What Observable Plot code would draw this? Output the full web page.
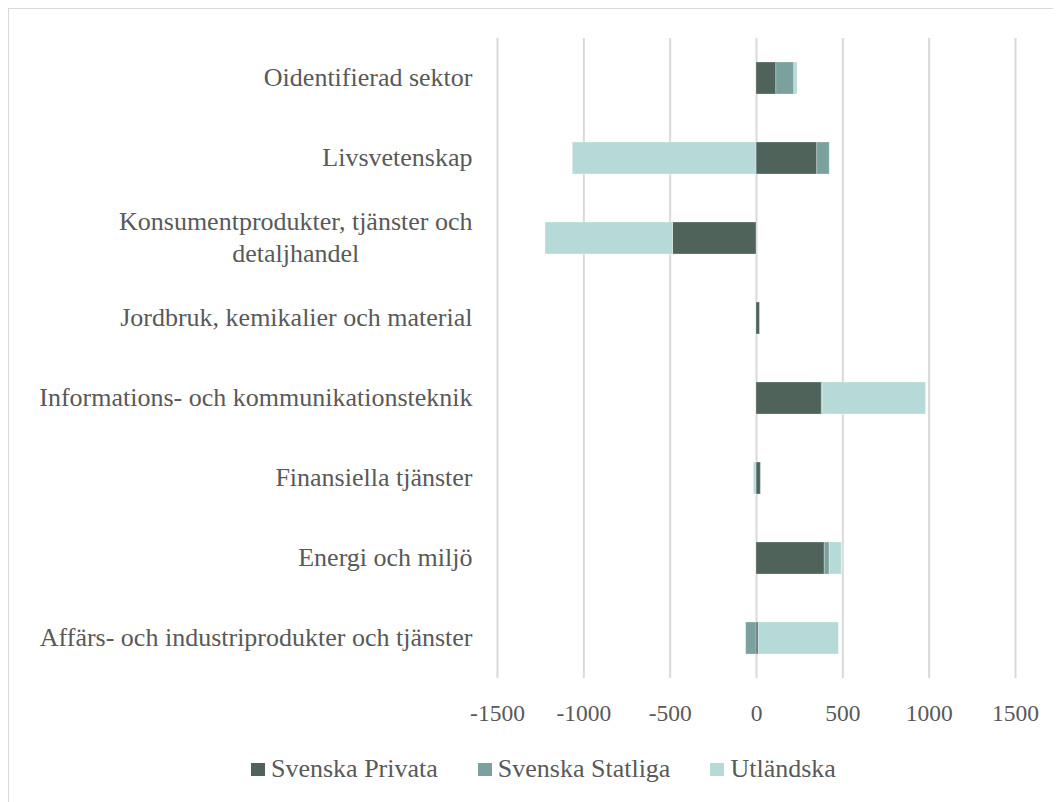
<!DOCTYPE html>
<html>
<head>
<meta charset="utf-8">
<script src="https://cdn.jsdelivr.net/npm/d3@7"></script>
<script src="https://cdn.jsdelivr.net/npm/@observablehq/plot@0.6"></script>
<style>
  body { margin: 8px; background: #fff; overflow: hidden; }
  #frame { border: 1px solid #d9d9d9; width: 1070px; height: 820px; box-sizing: border-box; }
  #legend { display: flex; justify-content: flex-start; align-items: center; gap: 40px;
    font-family: "Liberation Serif", serif; font-size: 26px; color: #595959; margin-top: 25px; padding-left: 242px; line-height: 30px; }
  #legend .item { display: flex; align-items: center; }
  #legend .sw { width: 14px; height: 13px; margin-right: 6px; }
</style>
</head>
<body>
<div id="frame"><div id="chart"></div><div id="legend"></div></div>
<script>
const categories = [
  "Oidentifierad sektor",
  "Livsvetenskap",
  "Konsumentprodukter, tjänster och detaljhandel",
  "Jordbruk, kemikalier och material",
  "Informations- och kommunikationsteknik",
  "Finansiella tjänster",
  "Energi och miljö",
  "Affärs- och industriprodukter och tjänster"
];
const series = ["Svenska Privata", "Svenska Statliga", "Utländska"];
const colors = ["#4f635b", "#7aa19e", "#b6dad8"];
const privata  = [115, 352, -483, 20, 378, 25, 395, 12];
const statliga = [104, 72, 0, 0, 5, 3, 29, -60];
const utlandska = [19, -1064, -739, 0, 599, -15, 70, 465];
const xTicks = [-1500, -1000, -500, 0, 500, 1000, 1500];
const labelLines = {"Konsumentprodukter, tjänster och detaljhandel": "Konsumentprodukter, tjänster och\ndetaljhandel"};

const seriesValues = [privata, statliga, utlandska];
const data = [];
categories.forEach((c, i) => series.forEach((s, j) => data.push({category: c, series: s, value: seriesValues[j][i]})));

const font = "Liberation Serif, serif";
const plot = Plot.plot({
  width: 1050,
  height: 720,
  marginLeft: 488,
  marginRight: 44,
  marginTop: 29,
  marginBottom: 51,
  style: {fontFamily: font, fontSize: "26px", color: "#595959", background: "transparent"},
  x: {domain: [-1500, 1500], ticks: xTicks},
  y: {domain: categories, paddingInner: 0.6, paddingOuter: 0.3},
  color: {domain: series, range: colors},
  marks: [
    Plot.gridX(xTicks, {stroke: "#d9d9d9", strokeOpacity: 1, strokeWidth: 2}),
    Plot.barX(data, Plot.stackX({x: "value", y: "category", fill: "series", stroke: "#ffffff", strokeOpacity: 0.35, strokeWidth: 0.8})),
    Plot.axisX(xTicks, {tickSize: 0, tickPadding: 26, label: null, fill: "#595959", fontSize: 23.5, tickFormat: d => String(d)}),
    Plot.axisY({tickSize: 0, tickPadding: 25, label: null, fill: "#595959", fontSize: 26, lineHeight: 1.25, dy: -3,
      tickFormat: d => labelLines[d] || d})
  ]
});
document.getElementById("chart").appendChild(plot);

// center wrapped label lines relative to each other (as in the original)
d3.select(plot).selectAll("text").each(function() {
  const tspans = this.querySelectorAll("tspan");
  if (tspans.length > 1) {
    const widths = Array.from(tspans, t => t.getComputedTextLength());
    const maxW = Math.max(...widths);
    tspans.forEach((t, k) => t.setAttribute("x", -(maxW - widths[k]) / 2));
  }
});

const legend = d3.select("#legend");
series.forEach((s, i) => {
  const item = legend.append("div").attr("class", "item");
  item.append("div").attr("class", "sw").style("background", colors[i]);
  item.append("span").text(s);
});
</script>
</body>
</html>
